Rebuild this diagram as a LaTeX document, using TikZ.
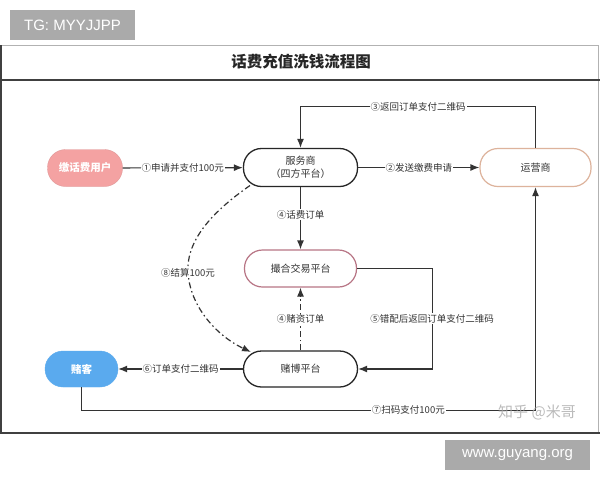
\documentclass[tikz,border=0pt]{standalone}
\usepackage{fontspec}
\setmainfont{Noto Sans CJK SC}
\newfontfamily\latfont{Liberation Sans}
\usetikzlibrary{arrows.meta}
\definecolor{txt}{HTML}{333333}
\definecolor{ln}{HTML}{333333}
\definecolor{pinkfill}{HTML}{F4A2A2}
\definecolor{bluefill}{HTML}{5AAAEE}
\definecolor{yyborder}{HTML}{DDB39C}
\definecolor{chborder}{HTML}{B87585}
\definecolor{wmgray}{HTML}{AAAAAA}
\tikzset{
  box/.style={rectangle, rounded corners=18pt, minimum width=114pt, minimum height=38pt,
    inner sep=0pt, align=center, text=txt, font=\fontsize{10}{13.5}\selectfont},
  blackbox/.style={box, draw=black!85, line width=1.3pt, fill=white},
  lab/.style={fill=white, inner sep=1pt, text=txt, font=\fontsize{9.5}{11}\selectfont},
  arr/.style={draw=ln, line width=1.2pt, -{Latex[length=9pt,width=7pt]}},
  dd/.style={arr, dash pattern=on 6pt off 3pt on 1.5pt off 3pt},
  wmbox/.style={fill=wmgray, text=white, inner sep=0pt, font=\latfont\fontsize{15}{17}\selectfont}
}
\begin{document}
\begin{tikzpicture}[x=1pt,y=-1pt]
\useasboundingbox (0,0) rectangle (600,480);
\fill[white] (0,0) rectangle (600,480);
% frame
\draw[gray!60, line width=0.8pt] (1,45) rectangle (598,433);
\draw[black!75, line width=1.3pt] (0,80) -- (600,80);
\draw[black!75, line width=1.3pt] (0,433) -- (600,433);
\draw[black!75, line width=1.3pt] (1,45) -- (1,433);
\node[text=black!85, font=\fontsize{15.5}{18}\selectfont\bfseries] (title) at (301,62) {话费充值洗钱流程图};
% watermark boxes
\node[wmbox, minimum width=125pt, minimum height=30pt] (tg) at (72.5,25) {TG: MYYJJPP};
\node[wmbox, minimum width=145pt, minimum height=30pt] (www) at (517.5,455) {www.guyang.org};
% nodes
\node[box, fill=pinkfill, draw=pinkfill!90!black, line width=0.3pt, minimum width=75pt, minimum height=37pt, text=white, font=\fontsize{10.5}{13}\selectfont\bfseries] (user) at (85,168) {缴话费用户};
\node[blackbox] (fw) at (300.5,167.5) {服务商\\（四方平台）};
\node[box, draw=yyborder, line width=1.2pt, minimum width=111pt, fill=white] (yy) at (535.5,167.5) {运营商};
\node[box, draw=chborder, line width=1.2pt, minimum width=112pt, minimum height=37pt, fill=white] (ch) at (300.5,268.5) {撮合交易平台};
\node[blackbox, minimum height=36pt] (db) at (300.5,369) {赌博平台};
\node[box, fill=bluefill, draw=bluefill, minimum width=73pt, minimum height=36pt, text=white, font=\fontsize{10.5}{13}\selectfont\bfseries] (dk) at (81.5,369) {赌客};
% edges
\draw[arr] (user) -- (fw) node[lab, midway] {①申请并支付100元};
\draw[arr] (fw) -- (yy) node[lab, midway] {②发送缴费申请};
\draw[arr] (yy.north) |- ([yshift=41pt]fw.north) node[lab, pos=0.75] {③返回订单支付二维码} -- (fw.north);
\draw[arr] (fw.south) -- (ch.north) node[lab, midway, yshift=3.5pt] {④话费订单};
\draw[arr] (ch.east) -- ++(75,0) |- (db.east) node[lab, pos=0.25] {⑤错配后返回订单支付二维码};
\draw[arr] (db) -- (dk) node[lab, midway] {⑥订单支付二维码};
\draw[arr] (dk.south) -- ++(0,23) -| (yy.south) node[lab, pos=0.36] {⑦扫码支付100元};
\draw[dd] (db.north) -- (ch.south) node[lab, midway] {④赌资订单};
\coordinate (s8) at (250,185.5);
\coordinate (m8) at (188,267);
\coordinate (e8) at (251,352);
\draw[dd] (s8) .. controls (225,203) and (189,232) .. (m8) .. controls (187,303) and (215,335) .. (e8);
\node[lab] (l8) at (188,273) {⑧结算100元};
\node[text=wmgray, opacity=0.8, font=\fontsize{15}{17}\selectfont] (zh) at (537,412) {知乎 @米哥};
\end{tikzpicture}
\end{document}
